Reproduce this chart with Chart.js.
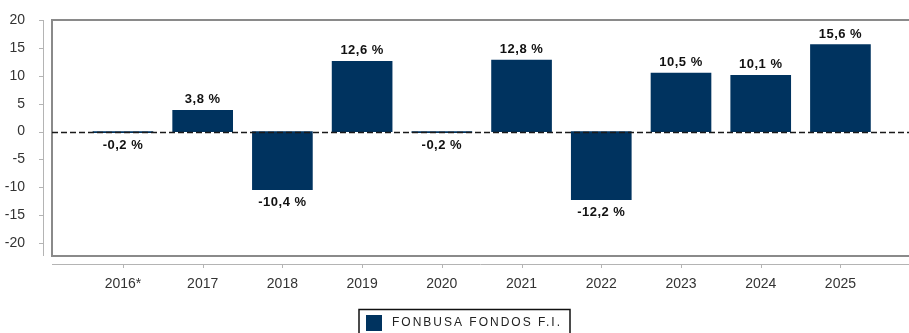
<!DOCTYPE html>
<html>
<head>
<meta charset="utf-8">
<title>FONBUSA FONDOS F.I.</title>
<script src="https://cdn.jsdelivr.net/npm/chart.js@4.4.1/dist/chart.umd.min.js"></script>
<style>
  html, body { margin: 0; padding: 0; background: #fff; }
  #wrap { width: 909px; height: 333px; }
</style>
</head>
<body>
<div id="wrap"><canvas id="chart" width="909" height="333"></canvas></div>
<script>
// annual returns (%)
const years = ['2016*', '2017', '2018', '2019', '2020', '2021', '2022', '2023', '2024', '2025'];
const returns = [-0.2, 3.8, -10.4, 12.6, -0.2, 12.8, -12.2, 10.5, 10.1, 15.6];
const yTicks = [20, 15, 10, 5, 0, -5, -10, -15, -20];
const fundName = 'FONBUSA FONDOS F.I.';

const barColor = '#00335f';
const fontFamily = "'Liberation Sans', Arial, sans-serif";

const fmt = v => v.toFixed(1).replace('.', ',') + ' %';

// box, axes, zero line, value labels and legend
const framePlugin = {
  id: 'frame',
  beforeDatasetsDraw(chart) {
    const { ctx, chartArea: a, scales } = chart;
    const x = scales.x, y = scales.y;
    ctx.save();
    // plot frame (open on the right)
    ctx.strokeStyle = '#8a8a8a';
    ctx.lineWidth = 2;
    ctx.beginPath();
    ctx.moveTo(chart.width + 2, a.top);
    ctx.lineTo(a.left, a.top);
    ctx.lineTo(a.left, a.bottom);
    ctx.lineTo(chart.width + 2, a.bottom);
    ctx.stroke();

    // y axis, detached from the frame
    ctx.strokeStyle = '#b4b4b4';
    ctx.lineWidth = 1;
    ctx.beginPath();
    ctx.moveTo(43.5, a.top);
    ctx.lineTo(43.5, a.bottom);
    yTicks.forEach(t => {
      const py = Math.round(y.getPixelForValue(t)) + 0.5;
      ctx.moveTo(39, py);
      ctx.lineTo(44, py);
    });
    ctx.stroke();

    // x axis below the frame
    ctx.beginPath();
    ctx.moveTo(a.left, 264.5);
    ctx.lineTo(chart.width, 264.5);
    years.forEach((_, i) => {
      const px = Math.round(x.getPixelForValue(i)) + 0.5;
      ctx.moveTo(px, 264);
      ctx.lineTo(px, 268);
    });
    ctx.stroke();
    ctx.restore();
  },
  afterDatasetsDraw(chart) {
    const { ctx, chartArea: a, scales } = chart;
    const x = scales.x, y = scales.y;
    ctx.save();
    // dashed zero line over the bars
    const zy = Math.round(y.getPixelForValue(0)) + 0.5;
    ctx.strokeStyle = '#1a1a1a';
    ctx.lineWidth = 1.6;
    ctx.setLineDash([6, 3]);
    ctx.beginPath();
    ctx.moveTo(a.left, zy);
    ctx.lineTo(a.right, zy);
    ctx.stroke();
    ctx.setLineDash([]);

    // value labels
    ctx.fillStyle = '#111';
    ctx.font = 'bold 13px ' + fontFamily;
    ctx.letterSpacing = '0.5px';
    ctx.textAlign = 'center';
    returns.forEach((v, i) => {
      const px = x.getPixelForValue(i);
      const py = y.getPixelForValue(v);
      if (v >= 0) {
        ctx.textBaseline = 'bottom';
        ctx.fillText(fmt(v), px, py - 4);
      } else {
        ctx.textBaseline = 'top';
        ctx.fillText(fmt(v), px, py + 6);
      }
    });
    ctx.restore();
  },
  afterDraw(chart) {
    const { ctx } = chart;
    ctx.save();
    // legend box
    ctx.strokeStyle = '#111';
    ctx.lineWidth = 1.5;
    ctx.strokeRect(359, 309.5, 211, 30);
    ctx.fillStyle = barColor;
    ctx.fillRect(366, 315, 16, 16);
    ctx.fillStyle = '#222';
    ctx.font = '12px ' + fontFamily;
    ctx.letterSpacing = '2px';
    ctx.textAlign = 'left';
    ctx.textBaseline = 'middle';
    ctx.fillText(fundName, 392, 323);
    ctx.restore();
  }
};

new Chart(document.getElementById('chart'), {
  type: 'bar',
  data: {
    datasets: [{
      label: fundName,
      data: returns.map((v, i) => ({ x: i, y: v })),
      backgroundColor: barColor,
      borderWidth: 0,
      barThickness: 60
    }]
  },
  options: {
    responsive: false,
    animation: false,
    layout: { padding: { top: 20, right: 0, left: 0, bottom: 0 } },
    plugins: {
      legend: { display: false },
      tooltip: { enabled: false }
    },
    scales: {
      x: {
        type: 'linear',
        offset: false,
        min: -0.89,
        max: 9.86,
        grid: { display: false },
        border: { display: false },
        afterFit(scale) {
          scale.height = 77;
          scale.paddingLeft = 0;
          scale.paddingRight = 0;
        },
        afterBuildTicks(scale) { scale.ticks = years.map((_, i) => ({ value: i })); },
        ticks: {
          autoSkip: false,
          maxRotation: 0,
          padding: 12,
          color: '#333',
          font: { family: fontFamily, size: 14 },
          callback: v => years[v]
        }
      },
      y: {
        min: -22.3,
        max: 20,
        grid: { display: false },
        border: { display: false },
        afterFit(scale) {
          scale.width = 52;
          scale.paddingTop = 0;
          scale.paddingBottom = 0;
        },
        afterBuildTicks(scale) { scale.ticks = yTicks.map(v => ({ value: v })); },
        ticks: {
          padding: 19,
          color: '#333',
          font: { family: fontFamily, size: 14 }
        }
      }
    }
  },
  plugins: [framePlugin]
});
</script>
</body>
</html>
